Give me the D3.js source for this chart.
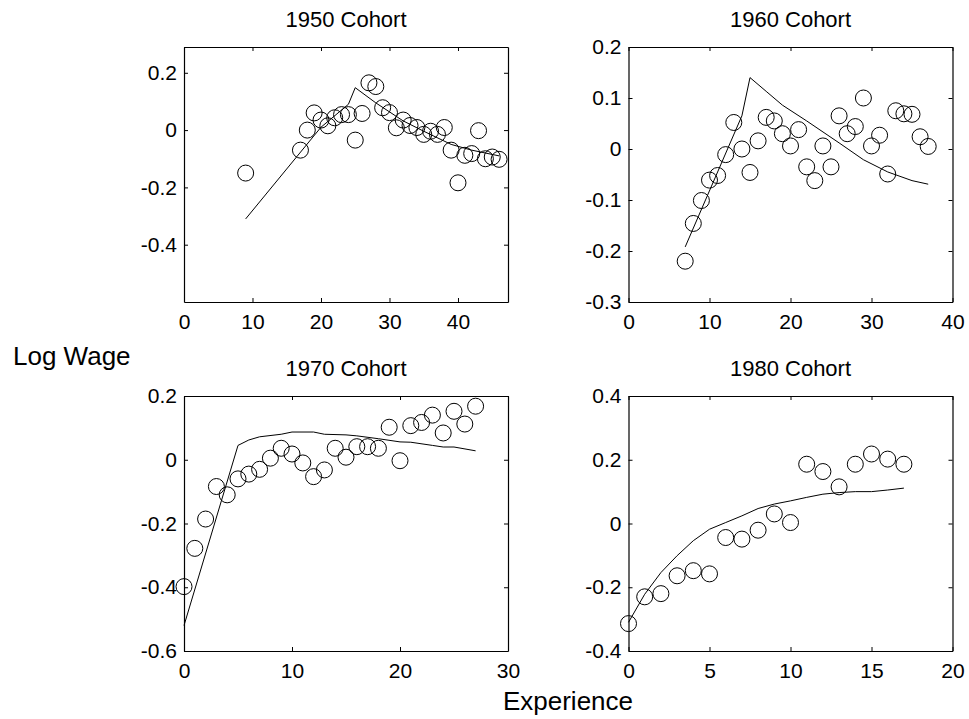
<!DOCTYPE html>
<html>
<head>
<meta charset="utf-8">
<script src="https://cdn.jsdelivr.net/npm/d3@7"></script>
<style>
  body { margin: 0; background: #fff; }
  svg { font-family: "Liberation Sans", Arial, sans-serif; }
</style>
</head>
<body>
<svg id="chart" width="969" height="719"></svg>
<script>
// titles and tick labels
var titles = ["1950 Cohort", "1960 Cohort", "1970 Cohort", "1980 Cohort"];
var xTicks = [[0, 10, 20, 30, 40], [0, 10, 20, 30, 40], [0, 10, 20, 30], [0, 5, 10, 15, 20]];
var yTicks = [[-0.4, -0.2, 0, 0.2], [-0.3, -0.2, -0.1, 0, 0.1, 0.2], [-0.6, -0.4, -0.2, 0, 0.2], [-0.4, -0.2, 0, 0.2, 0.4]];
var xLims = [[0, 47.3], [0, 40], [0, 30], [0, 20]];
var yLims = [[-0.6, 0.29], [-0.3, 0.2], [-0.6, 0.2], [-0.4, 0.4]];

// 1950 cohort
var exp1950 = [9, 17, 18, 19, 20, 21, 22, 23, 24, 25, 26, 27, 28, 29, 30, 31, 32, 33, 34, 35, 36, 37, 38, 39, 40, 41, 42, 43, 44, 45, 46];
var wage1950 = [-0.15, -0.07, 0.0, 0.06, 0.035, 0.015, 0.043, 0.054, 0.054, -0.035, 0.058, 0.165, 0.152, 0.078, 0.061, 0.008, 0.035, 0.016, 0.009, -0.015, -0.004, -0.015, 0.009, -0.07, -0.184, -0.088, -0.082, -0.002, -0.1, -0.094, -0.102];
var fitX1950 = [9, 20, 24, 25, 28, 32, 35, 39, 42, 46];
var fitY1950 = [-0.31, 0.01, 0.09, 0.148, 0.095, 0.032, -0.004, -0.05, -0.07, -0.09];

// 1960 cohort
var exp1960 = [7, 8, 9, 10, 11, 12, 13, 14, 15, 16, 17, 18, 19, 20, 21, 22, 23, 24, 25, 26, 27, 28, 29, 30, 31, 32, 33, 34, 35, 36, 37];
var wage1960 = [-0.22, -0.146, -0.101, -0.061, -0.052, -0.011, 0.052, 0.0, -0.046, 0.016, 0.062, 0.055, 0.03, 0.006, 0.038, -0.035, -0.062, 0.006, -0.035, 0.065, 0.03, 0.044, 0.1, 0.006, 0.027, -0.049, 0.075, 0.069, 0.068, 0.024, 0.005];
var fitX1960 = [7, 14, 15, 17, 19, 22, 26, 29, 32, 35, 37];
var fitY1960 = [-0.192, 0.065, 0.14, 0.113, 0.086, 0.055, 0.012, -0.021, -0.045, -0.062, -0.069];

// 1970 cohort
var exp1970 = [0, 1, 2, 3, 4, 5, 6, 7, 8, 9, 10, 11, 12, 13, 14, 15, 16, 17, 18, 19, 20, 21, 22, 23, 24, 25, 26, 27];
var wage1970 = [-0.398, -0.278, -0.186, -0.084, -0.11, -0.06, -0.045, -0.03, 0.005, 0.036, 0.018, -0.01, -0.053, -0.032, 0.036, 0.008, 0.041, 0.041, 0.036, 0.102, -0.003, 0.107, 0.117, 0.14, 0.084, 0.152, 0.112, 0.168];
var fitX1970 = [0, 5, 6, 7, 9, 10, 12, 13, 15, 16, 18, 20, 21, 23, 24, 25, 27];
var fitY1970 = [-0.52, 0.045, 0.062, 0.072, 0.08, 0.087, 0.087, 0.08, 0.078, 0.075, 0.066, 0.056, 0.055, 0.045, 0.04, 0.04, 0.028];

// 1980 cohort
var exp1980 = [0, 1, 2, 3, 4, 5, 6, 7, 8, 9, 10, 11, 12, 13, 14, 15, 16, 17];
var wage1980 = [-0.314, -0.23, -0.22, -0.164, -0.148, -0.158, -0.044, -0.049, -0.021, 0.03, 0.003, 0.186, 0.163, 0.115, 0.186, 0.218, 0.202, 0.186];
var fitX1980 = [0, 1, 2, 3, 4, 5, 6, 7, 8, 9, 10, 11, 12, 13, 14, 15, 16, 17];
var fitY1980 = [-0.31, -0.222, -0.154, -0.101, -0.054, -0.018, 0.003, 0.024, 0.047, 0.061, 0.071, 0.082, 0.092, 0.097, 0.1, 0.1, 0.105, 0.111];

var panels = [
  {x: exp1950, y: wage1950, fx: fitX1950, fy: fitY1950},
  {x: exp1960, y: wage1960, fx: fitX1960, fy: fitY1960},
  {x: exp1970, y: wage1970, fx: fitX1970, fy: fitY1970},
  {x: exp1980, y: wage1980, fx: fitX1980, fy: fitY1980}
];

var svg = d3.select("#chart");
var colX = [184, 628.5];
var rowY = [47, 396];
var w = 324, h = 255;
var fmt = function(d) { return String(d); };

panels.forEach(function(p, i) {
  var left = colX[i % 2], top = rowY[Math.floor(i / 2)];
  var x = d3.scaleLinear().domain(xLims[i]).range([0, w]);
  var y = d3.scaleLinear().domain(yLims[i]).range([h, 0]);
  var g = svg.append("g").attr("transform", "translate(" + left + "," + top + ")");

  var bottom = g.append("g").attr("transform", "translate(0," + h + ")")
    .call(d3.axisBottom(x).tickValues(xTicks[i]).tickFormat(fmt).tickSize(-4).tickSizeOuter(0).tickPadding(12));
  var lefta = g.append("g")
    .call(d3.axisLeft(y).tickValues(yTicks[i]).tickFormat(fmt).tickSize(-4).tickSizeOuter(0).tickPadding(7));
  g.append("g")
    .call(d3.axisTop(x).tickValues(xTicks[i]).tickFormat("").tickSize(-4).tickSizeOuter(0));
  g.append("g").attr("transform", "translate(" + w + ",0)")
    .call(d3.axisRight(y).tickValues(yTicks[i]).tickFormat("").tickSize(-4).tickSizeOuter(0));

  g.selectAll(".domain").attr("stroke", "#000").attr("stroke-width", 1.2);
  g.selectAll(".tick line").attr("stroke", "#000").attr("stroke-width", 1);
  g.selectAll(".tick text").attr("font-size", 21).attr("fill", "#000")
    .attr("font-family", "Liberation Sans, Arial, sans-serif");

  g.append("text")
    .attr("x", w / 2).attr("y", -20)
    .attr("text-anchor", "middle")
    .attr("font-size", 22)
    .text(titles[i]);

  var line = d3.line().x(function(d) { return x(d[0]); }).y(function(d) { return y(d[1]); });
  g.append("path")
    .datum(d3.zip(p.fx, p.fy))
    .attr("d", line)
    .attr("fill", "none")
    .attr("stroke", "#000")
    .attr("stroke-width", 1);

  g.selectAll("circle")
    .data(d3.zip(p.x, p.y))
    .enter()
    .append("circle")
    .attr("cx", function(d) { return x(d[0]); })
    .attr("cy", function(d) { return y(d[1]); })
    .attr("r", 8)
    .attr("fill", "none")
    .attr("stroke", "#000")
    .attr("stroke-width", 1);
});

svg.append("text")
  .attr("x", 13).attr("y", 365)
  .attr("font-size", 26)
  .text("Log Wage");

svg.append("text")
  .attr("x", 568).attr("y", 710)
  .attr("text-anchor", "middle")
  .attr("font-size", 26)
  .text("Experience");
</script>
</body>
</html>
